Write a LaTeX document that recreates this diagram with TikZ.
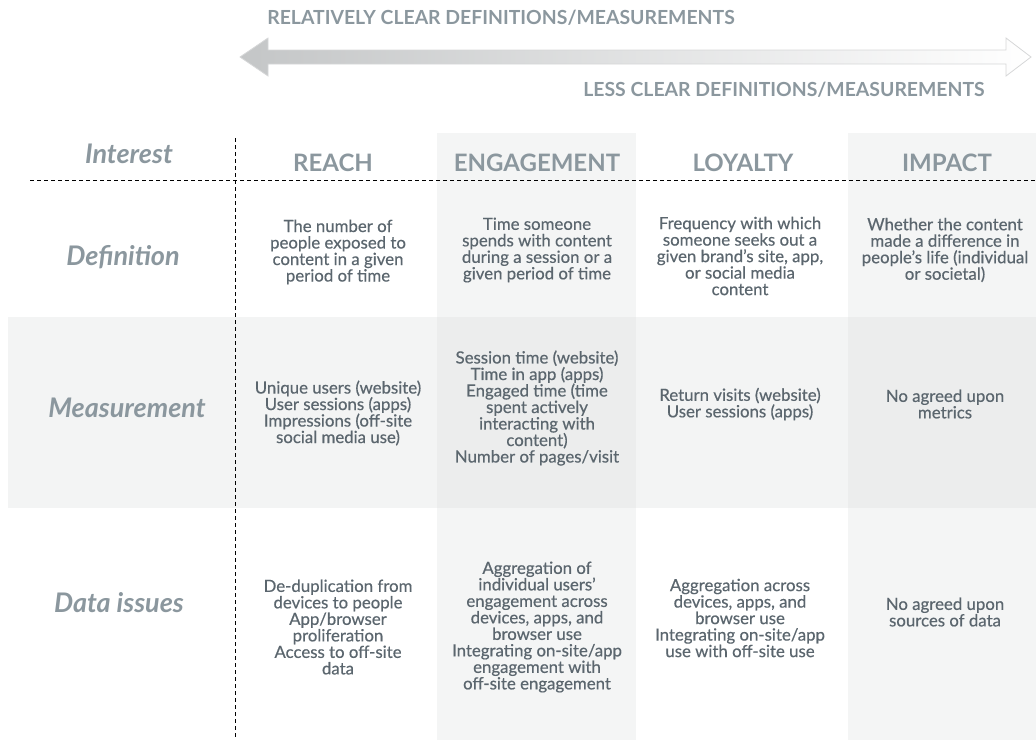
\documentclass[tikz,border=0pt]{standalone}
\usepackage{fontspec}
\setmainfont{Lato}
\newfontfamily\cellfont{Lato}[FakeBold=0.5]
\usepackage{xcolor}
\definecolor{txtgray}{HTML}{5B666E}
\definecolor{hdgray}{HTML}{8B979E}
\definecolor{colshade}{HTML}{F4F5F5}
\definecolor{rowshade}{HTML}{F3F4F4}
\definecolor{crossshade}{HTML}{ECEDED}
\definecolor{arrowgray}{HTML}{C4C6C7}

\begin{document}
\begin{tikzpicture}[x=0.5pt,y=-0.5pt,
    cell/.style={align=center,inner sep=0pt,text=txtgray,font=\cellfont\fontsize{8.4}{8.25}\selectfont},
    colhead/.style={inner sep=0pt,text=hdgray,font=\fontsize{12}{14}\selectfont\bfseries},
    rowhead/.style={inner sep=0pt,text=hdgray,font=\fontsize{13.5}{15}\selectfont\bfseries\itshape},
    scalehead/.style={inner sep=0pt,text=hdgray,font=\fontsize{9.7}{11}\selectfont\bfseries},
    gridline/.style={line width=0.5pt,dash pattern=on 2pt off 1.5pt}]
    \useasboundingbox (0,0) rectangle (1036,740);
    \fill[colshade] (437,133) rectangle (636,740);
    \fill[colshade] (848,133) rectangle (1036,740);
    \fill[rowshade] (8,317) rectangle (1036,508);
    \fill[crossshade] (437,317) rectangle (636,508);
    \fill[crossshade] (848,317) rectangle (1036,508);
    \shade[left color=arrowgray,right color=white,draw=arrowgray!70,line width=0.4pt]
        (240,57) -- (268,38) -- (268,50) -- (1006,50) -- (1006,38) -- (1031,57)
        -- (1006,76) -- (1006,64) -- (268,64) -- (268,76) -- cycle;
    \node[scalehead] (clear) at (501,18) {RELATIVELY CLEAR DEFINITIONS/MEASUREMENTS};
    \node[scalehead] (lessclear) at (784,90) {LESS CLEAR DEFINITIONS/MEASUREMENTS};
    \draw[gridline] (30,180) -- (1036,180);
    \draw[gridline] (235,138) -- (235,740);
    \node[rowhead] (interest) at (129,154) {Interest};
    \node[rowhead] (definition) at (123,257) {Definition};
    \node[rowhead] (measurement) at (127,408) {Measurement};
    \node[rowhead] (dataissues) at (119,603) {Data issues};
    \node[colhead] (reach) at (333,163) {REACH};
    \node[colhead] (engagement) at (537,163) {ENGAGEMENT};
    \node[colhead] (loyalty) at (743,163) {LOYALTY};
    \node[colhead] (impact) at (947,163) {IMPACT};
    \node[cell] (reachdef) at (338,252) {The number of\\people exposed to\\content in a given\\period of time};
    \node[cell] (engagedef) at (537,250) {Time someone\\spends with content\\during a session or a\\given period of time};
    \node[cell] (loyaltydef) at (740,256) {Frequency with which\\someone seeks out a\\given brand’s site, app,\\or social media\\content};
    \node[cell] (impactdef) at (945,250) {Whether the content\\made a difference in\\people’s life (individual\\or societal)};
    \node[cell] (reachmeas) at (338,413) {Unique users (website)\\User sessions (apps)\\Impressions (off-site\\social media use)};
    \node[cell] (engagemeas) at (537,408) {Session time (website)\\Time in app (apps)\\Engaged time (time\\spent actively\\interacting with\\content)\\Number of pages/visit};
    \node[cell] (loyaltymeas) at (740,404) {Return visits (website)\\User sessions (apps)};
    \node[cell] (impactmeas) at (945,404) {No agreed upon\\metrics};
    \node[cell] (reachdata) at (338,627) {De-duplication from\\devices to people\\App/browser\\proliferation\\Access to off-site\\data};
    \node[cell] (engagedata) at (537,627) {Aggregation of\\individual users’\\engagement across\\devices, apps, and\\browser use\\Integrating on-site/app\\engagement with\\off-site engagement};
    \node[cell] (loyaltydata) at (740,618) {Aggregation across\\devices, apps, and\\browser use\\Integrating on-site/app\\use with off-site use};
    \node[cell] (impactdata) at (945,612) {No agreed upon\\sources of data};
\end{tikzpicture}
\end{document}
